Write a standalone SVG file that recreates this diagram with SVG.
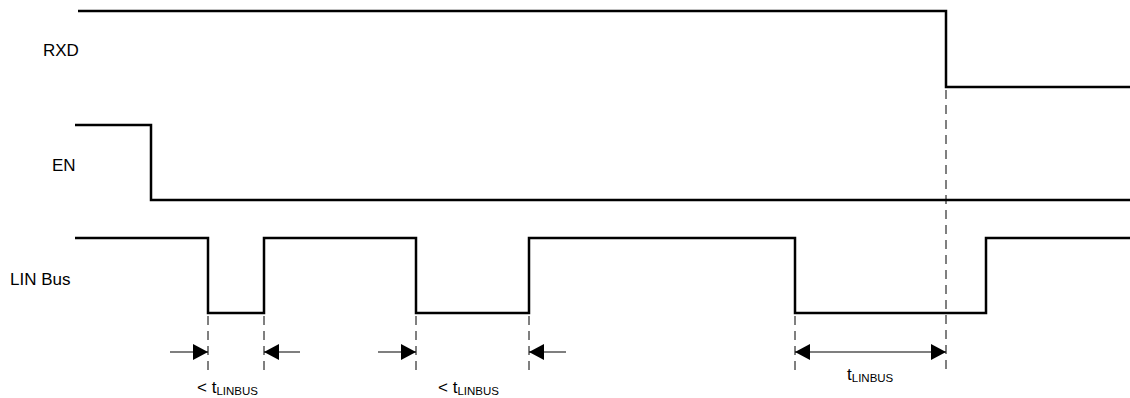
<svg xmlns="http://www.w3.org/2000/svg" width="1130" height="398" viewBox="0 0 1130 398">
<style>
.sig{fill:none;stroke:#000;stroke-width:2.5;stroke-linejoin:miter}
.dash{fill:none;stroke:#000;stroke-width:1;stroke-dasharray:9,6}
.dim{fill:none;stroke:#000;stroke-width:1.2}
text{font-family:"Liberation Sans",Arial,sans-serif;fill:#000}
.lbl{font-size:17px}
.sub{font-size:11.5px}
</style>
<defs>
<marker id="ah" viewBox="0 0 15 16" refX="15" refY="8" markerWidth="15" markerHeight="16" markerUnits="userSpaceOnUse" orient="auto-start-reverse">
<path d="M0,0 L15,8 L0,16 Z" fill="#000"/>
</marker>
</defs>
<rect width="1130" height="398" fill="#fff"/>
<g id="RXD">
<text class="lbl" x="43" y="56">RXD</text>
<path class="sig" d="M78,11 H946 V87 H1130"/>
</g>
<g id="EN">
<text class="lbl" x="52" y="171">EN</text>
<path class="sig" d="M75,125 H151 V200 H1130"/>
</g>
<g id="LINBus">
<text class="lbl" x="10" y="285">LIN Bus</text>
<path class="sig" d="M75,238 H208 V313 H264 V238 H416 V313 H529 V238 H795 V313 H986 V238 H1130"/>
</g>
<g id="connectors">
<path class="dash" d="M208,316 V372 M264,316 V372 M416,316 V372 M529,316 V372 M795,316 V372 M946,90 V372"/>
<path class="dim" d="M170,352 H208" marker-end="url(#ah)"/>
<path class="dim" d="M300,352 H264" marker-end="url(#ah)"/>
<path class="dim" d="M378,352 H416" marker-end="url(#ah)"/>
<path class="dim" d="M566,352 H529" marker-end="url(#ah)"/>
<path class="dim" d="M795,352 H946" marker-start="url(#ah)" marker-end="url(#ah)"/>
</g>
<g id="labels">
<text class="lbl" x="197" y="393">&lt; t<tspan class="sub" dy="2">LINBUS</tspan></text>
<text class="lbl" x="438" y="393">&lt; t<tspan class="sub" dy="2">LINBUS</tspan></text>
<text class="lbl" x="847" y="380">t<tspan class="sub" dy="2">LINBUS</tspan></text>
</g>
</svg>
